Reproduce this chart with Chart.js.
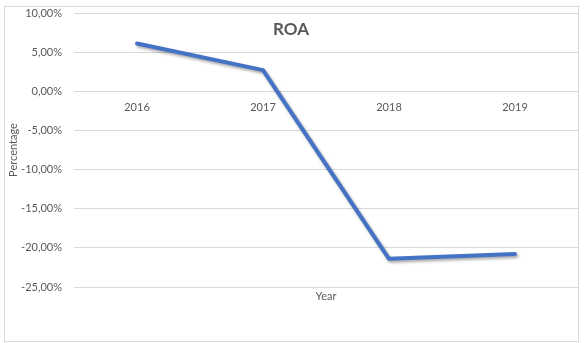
<!DOCTYPE html>
<html>
<head>
<meta charset="utf-8">
<script src="https://cdn.jsdelivr.net/npm/chart.js@4.4.0/dist/chart.umd.min.js"></script>
<style>
  html, body { margin: 0; padding: 0; background: #ffffff; }
  #wrap { width: 586px; height: 343px; position: relative; }
</style>
</head>
<body>
<div id="wrap"><canvas id="c"></canvas></div>
<script>
const categories = ['2016', '2017', '2018', '2019'];
const roaValues = [6.1, 2.7, -21.4, -20.8];
const yTickValues = [-25, -20, -15, -10, -5, 0, 5, 10];
const chartTitle = 'ROA';
const xTitle = 'Year';
const yTitle = 'Percentage';

const FONT = 'Lato, "Open Sans", sans-serif';
const TEXT = '#595959';
const GRID = '#d9d9d9';

const decorPlugin = {
  id: 'decor',
  beforeDraw(chart) {
    const ctx = chart.ctx;
    ctx.save();
    ctx.fillStyle = '#ffffff';
    ctx.fillRect(0, 0, chart.width, chart.height);
    ctx.restore();
  },
  afterDraw(chart) {
    const ctx = chart.ctx;
    ctx.save();
    ctx.strokeStyle = GRID;
    ctx.lineWidth = 1;
    ctx.strokeRect(4.5, 6.5, 574, 335);
    ctx.fillStyle = TEXT;
    ctx.font = 'bold 17px ' + FONT;
    ctx.textAlign = 'center';
    ctx.textBaseline = 'middle';
    ctx.fillText(chartTitle, 291, 30);
    ctx.restore();
  },
  beforeDatasetsDraw(chart) {
    const ctx = chart.ctx;
    ctx.save();
    ctx.shadowColor = 'rgba(0,0,0,0.35)';
    ctx.shadowBlur = 3;
    ctx.shadowOffsetX = 1.5;
    ctx.shadowOffsetY = 2;
  },
  afterDatasetsDraw(chart) {
    chart.ctx.restore();
  }
};

new Chart(document.getElementById('c'), {
  type: 'line',
  data: {
    labels: categories,
    datasets: [{
      label: chartTitle,
      data: roaValues,
      borderColor: '#4472C4',
      borderWidth: 4,
      pointRadius: 0,
      pointHoverRadius: 0,
      tension: 0,
      borderCapStyle: 'round',
      borderJoinStyle: 'round',
      fill: false,
      xAxisID: 'x',
      yAxisID: 'y'
    }]
  },
  options: {
    responsive: true,
    maintainAspectRatio: false,
    animation: false,
    events: [],
    layout: { padding: { left: 0, right: 8, top: 13, bottom: 0 } },
    plugins: {
      legend: { display: false },
      title: { display: false },
      tooltip: { enabled: false }
    },
    scales: {
      x: {
        type: 'category',
        position: { y: 0 },
        offset: true,
        grid: { display: false, drawTicks: false },
        border: { display: false },
        ticks: {
          color: TEXT,
          font: { family: FONT, size: 11 },
          padding: 10,
          maxRotation: 0,
          autoSkip: false
        },
        afterFit(scale) { scale.height = 0; scale.paddingLeft = 0; scale.paddingRight = 0; }
      },
      x2: {
        type: 'category',
        position: 'bottom',
        labels: categories,
        offset: true,
        grid: { display: false },
        border: { display: false },
        ticks: { display: false },
        title: {
          display: true,
          text: xTitle,
          color: TEXT,
          font: { family: FONT, size: 11 },
          padding: { top: 0, bottom: 40 }
        },
        afterFit(scale) { scale.height = 56; scale.paddingLeft = 0; scale.paddingRight = 0; }
      },
      y: {
        type: 'linear',
        min: -25,
        max: 10,
        afterBuildTicks(scale) {
          scale.ticks = yTickValues.map(v => ({ value: v }));
        },
        grid: { color: GRID, lineWidth: 1, drawTicks: false },
        border: { display: false },
        ticks: {
          color: TEXT,
          font: { family: FONT, size: 11 },
          padding: 12,
          callback: v => v.toFixed(2).replace('.', ',') + '%'
        },
        title: {
          display: true,
          text: yTitle,
          color: TEXT,
          font: { family: FONT, size: 11 },
          padding: { top: 7, bottom: 0 }
        },
        afterFit(scale) { scale.width = 74; scale.paddingTop = 0; scale.paddingBottom = 0; }
      }
    }
  },
  plugins: [decorPlugin]
});
</script>
</body>
</html>
